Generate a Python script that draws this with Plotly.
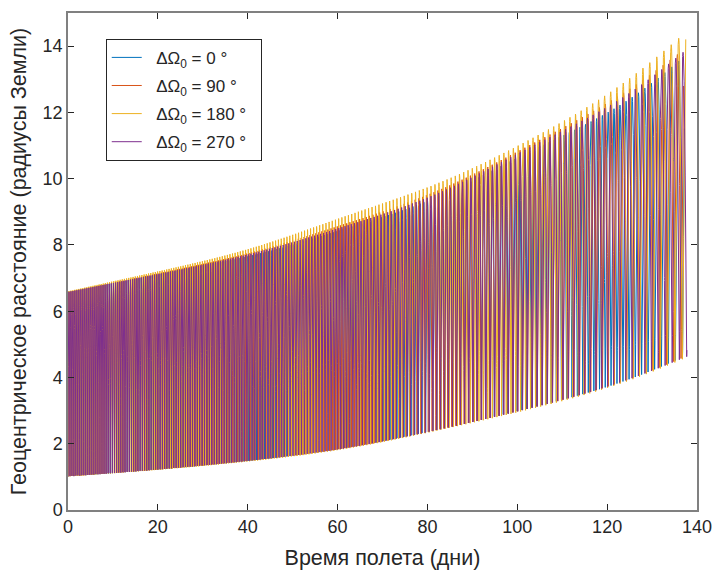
import numpy as np
import plotly.graph_objects as go

# ---- data ----
# sample days at which the orbit envelopes were read
knot_days = [0, 20, 42, 62, 83, 104, 126, 139]

NB = "\u00a0"
series_names = [NB * 2 + "ΔΩ<sub>0</sub> = 0 °" + NB * 2, NB * 2 + "ΔΩ<sub>0</sub> = 90 °" + NB * 2,
                NB * 2 + "ΔΩ<sub>0</sub> = 180 °" + NB * 2, NB * 2 + "ΔΩ<sub>0</sub> = 270 °" + NB * 2]
series_colors = ["#0072BD", "#D95319", "#EDB120", "#7E2F8E"]

# apogee radius (Earth radii) at knot_days
apogee_0 = [6.58, 7.10, 7.72, 8.50, 9.50, 10.90, 12.50, 13.90]
apogee_90 = [6.58, 7.14, 7.82, 8.65, 9.68, 11.10, 12.80, 14.10]
apogee_180 = [6.60, 7.20, 7.95, 8.88, 9.90, 11.27, 13.13, 14.60]
apogee_270 = [6.58, 7.12, 7.78, 8.58, 9.60, 11.03, 12.68, 14.05]

# perigee radius (Earth radii) at knot_days
perigee_0 = [1.01, 1.22, 1.51, 1.88, 2.45, 3.12, 4.00, 4.74]
perigee_90 = [1.01, 1.22, 1.51, 1.87, 2.44, 3.11, 4.00, 4.72]
perigee_180 = [1.01, 1.21, 1.49, 1.85, 2.42, 3.08, 3.96, 4.68]
perigee_270 = [1.01, 1.22, 1.51, 1.87, 2.44, 3.11, 4.00, 4.70]

# flight end (days) of each series
end_days = [137.2, 137.0, 137.5, 137.75]

apogees = [apogee_0, apogee_90, apogee_180, apogee_270]
perigees = [perigee_0, perigee_90, perigee_180, perigee_270]

# ---- orbit reconstruction (Kepler motion between the read envelopes) ----
RE = 6378.137
MU = 398600.4418


def natural_spline(xk, yk, x):
    xk = np.asarray(xk, float)
    yk = np.asarray(yk, float)
    n = len(xk)
    h = np.diff(xk)
    A = np.zeros((n, n))
    b = np.zeros(n)
    A[0, 0] = A[-1, -1] = 1.0
    for i in range(1, n - 1):
        A[i, i - 1] = h[i - 1]
        A[i, i] = 2 * (h[i - 1] + h[i])
        A[i, i + 1] = h[i]
        b[i] = 6 * ((yk[i + 1] - yk[i]) / h[i] - (yk[i] - yk[i - 1]) / h[i - 1])
    m = np.linalg.solve(A, b)
    idx = np.clip(np.searchsorted(xk, x) - 1, 0, n - 2)
    x0, x1 = xk[idx], xk[idx + 1]
    hh = x1 - x0
    t1 = x1 - x
    t0 = x - x0
    return (m[idx] * t1 ** 3 / (6 * hh) + m[idx + 1] * t0 ** 3 / (6 * hh)
            + (yk[idx] / hh - m[idx] * hh / 6) * t1
            + (yk[idx + 1] / hh - m[idx + 1] * hh / 6) * t0)


def orbit_track(ra_k, rp_k, t_end):
    t = np.arange(0.0, t_end, 0.004)
    ra = natural_spline(knot_days, ra_k, t)
    rp = natural_spline(knot_days, rp_k, t)
    a = 0.5 * (ra + rp)
    e = (ra - rp) / (ra + rp)
    period_days = 2 * np.pi * np.sqrt((a * RE) ** 3 / MU) / 86400.0
    n = 2 * np.pi / period_days
    M = np.concatenate([[0.0], np.cumsum(0.5 * (n[1:] + n[:-1]) * np.diff(t))])
    E = M.copy()
    for _ in range(30):
        E = E - (E - e * np.sin(E) - M) / (1 - e * np.cos(E))
    r = a * (1 - e * np.cos(E))
    return t, r


fig = go.Figure()
for i in range(4):
    t, r = orbit_track(apogees[i], perigees[i], end_days[i])
    fig.add_trace(go.Scatter(
        x=t, y=r, mode="lines", name=series_names[i],
        line=dict(color=series_colors[i], width=1),
        legendgroup=f"g{i}",
    ))

FONT = "Liberation Sans, Arial, sans-serif"
axis_common = dict(
    showline=True, linecolor="#808080", linewidth=1.5, mirror="ticks",
    ticks="inside", ticklen=6, tickwidth=1, tickcolor="#262626",
    showgrid=False, zeroline=False,
    tickfont=dict(family=FONT, size=18, color="#262626"),
)

fig.update_layout(
    width=723, height=577,
    margin=dict(l=68, r=19, t=11, b=66),
    paper_bgcolor="white", plot_bgcolor="white",
    font=dict(family=FONT, color="#262626"),
    showlegend=True,
    legend=dict(
        x=0.06, y=0.948, xanchor="left", yanchor="top",
        bgcolor="white", bordercolor="#262626", borderwidth=1,
        font=dict(size=17, color="#262626"),
        tracegroupgap=3,
    ),
    xaxis=dict(range=[0, 140], dtick=20, tick0=0,
               title=dict(text="Время полета (дни)", font=dict(size=21.5), standoff=14),
               **axis_common),
    yaxis=dict(range=[0, 15], dtick=2, tick0=0,
               title=dict(text="Геоцентрическое расстояние (радиусы Земли)", font=dict(size=21.5), standoff=10),
               **axis_common),
)

fig.write_html("out.html")
